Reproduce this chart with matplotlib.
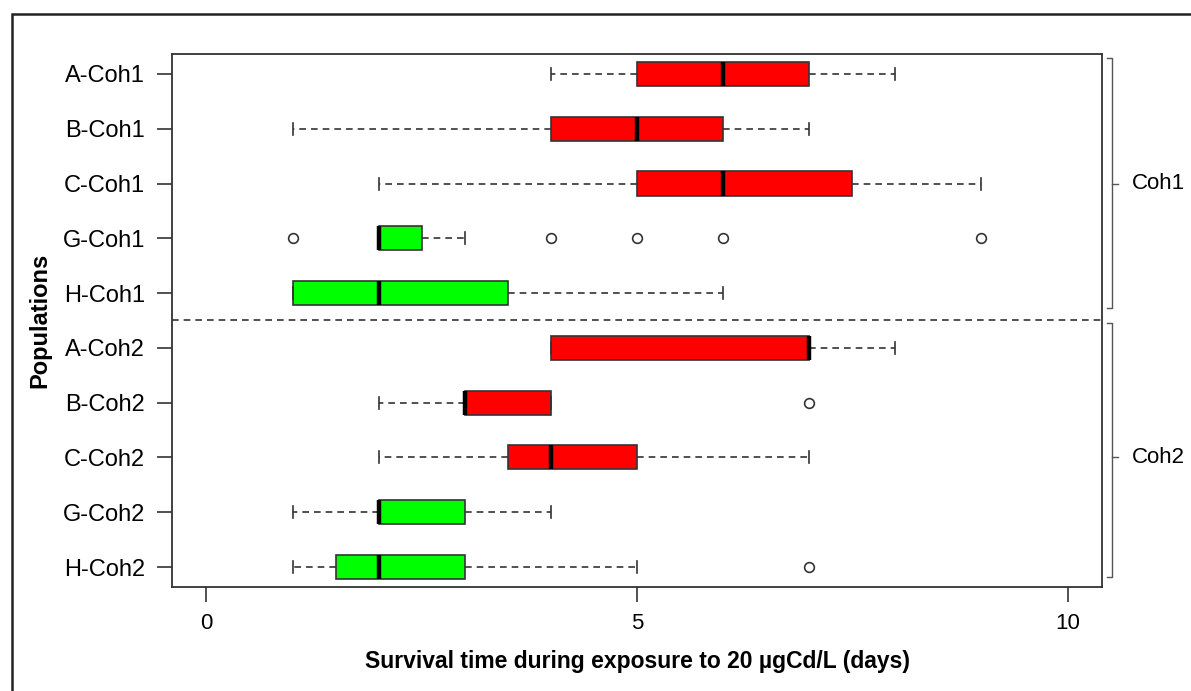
import matplotlib.pyplot as plt
from matplotlib.patches import Rectangle
import matplotlib.transforms as mtransforms

plt.rcParams['font.family'] = ['Liberation Sans', 'DejaVu Sans']

# Populations (top to bottom)
populations = ['A-Coh1', 'B-Coh1', 'C-Coh1', 'G-Coh1', 'H-Coh1',
               'A-Coh2', 'B-Coh2', 'C-Coh2', 'G-Coh2', 'H-Coh2']
whisker_low = [4, 1, 2, 2, 1, 4, 2, 2, 1, 1]
q1 = [5, 4, 5, 2, 1, 4, 3, 3.5, 2, 1.5]
median = [6, 5, 6, 2, 2, 7, 3, 4, 2, 2]
q3 = [7, 6, 7.5, 2.5, 3.5, 7, 4, 5, 3, 3]
whisker_high = [8, 7, 9, 3, 6, 8, 4, 7, 4, 5]
outliers = [[], [], [], [1, 4, 5, 6, 9], [], [], [7], [], [], [7]]
colors = ['#ff0000', '#ff0000', '#ff0000', '#00ff00', '#00ff00',
          '#ff0000', '#ff0000', '#ff0000', '#00ff00', '#00ff00']
cohorts = ['Coh1', 'Coh2']

fig = plt.figure(figsize=(11.91, 6.91), dpi=100)
ax = fig.add_axes([0.1444, 0.1505, 0.7809, 0.7714])

stats = []
for i in range(len(populations)):
    stats.append({'whislo': whisker_low[i], 'q1': q1[i], 'med': median[i],
                  'q3': q3[i], 'whishi': whisker_high[i], 'fliers': outliers[i]})

pos = list(range(1, len(populations) + 1))
bp = ax.bxp(stats, positions=pos, vert=False, widths=0.44, capwidths=0.22,
            patch_artist=True, showfliers=True,
            boxprops=dict(edgecolor='#333333', linewidth=1.2),
            medianprops=dict(color='black', linewidth=3.2, solid_capstyle='butt'),
            whiskerprops=dict(color='#333333', linewidth=1.2, linestyle=(0, (4, 3))),
            capprops=dict(color='#333333', linewidth=1.2),
            flierprops=dict(marker='o', markersize=7, markerfacecolor='none',
                            markeredgecolor='#333333', markeredgewidth=1.2))
for box, c in zip(bp['boxes'], colors):
    box.set_facecolor(c)

ax.axhline(5.5, color='#333333', linewidth=1.2, linestyle=(0, (4, 3)))

ax.set_xlim(-0.4, 10.4)
ax.set_ylim(10.365, 0.635)
ax.set_xticks([0, 5, 10])
ax.set_yticks(pos)
ax.set_yticklabels(populations)
ax.tick_params(axis='both', length=10.5, width=1.2, color='#333333')
ax.tick_params(axis='y', labelsize=17, pad=9)
ax.tick_params(axis='x', labelsize=16, pad=8)
for s in ax.spines.values():
    s.set_color('#333333')
    s.set_linewidth(1.3)

ax.set_xlabel('Survival time during exposure to 20 \u00b5gCd/L (days)',
              fontsize=16.5, fontweight='bold', labelpad=12)
ax.set_ylabel('Populations', fontsize=17, fontweight='bold', labelpad=8)

# cohort brackets on the right
trans = mtransforms.blended_transform_factory(ax.transAxes, ax.transData)
bracket_spans = [(0.71, 5.27), (5.54, 10.18)]
bracket_mid = [3, 8]
bx = 1.0108
for (y0, y1), ym, lab in zip(bracket_spans, bracket_mid, cohorts):
    ax.plot([bx - 0.005, bx, bx, bx - 0.005], [y0, y0, y1, y1], color='#555555',
            linewidth=1.0, transform=trans, clip_on=False)
    ax.plot([bx, bx + 0.006], [ym, ym], color='#555555', linewidth=1.0,
            transform=trans, clip_on=False)
    ax.text(bx + 0.021, ym, lab, transform=trans, fontsize=16, va='center', ha='left')

# outer frame
fig.patches.append(Rectangle((12 / 1191, -0.1), 1.2, 1.1 - 14 / 691, fill=False,
                             edgecolor='#222222', linewidth=1.8,
                             transform=fig.transFigure, figure=fig))

fig.savefig('out.png', dpi=100)
